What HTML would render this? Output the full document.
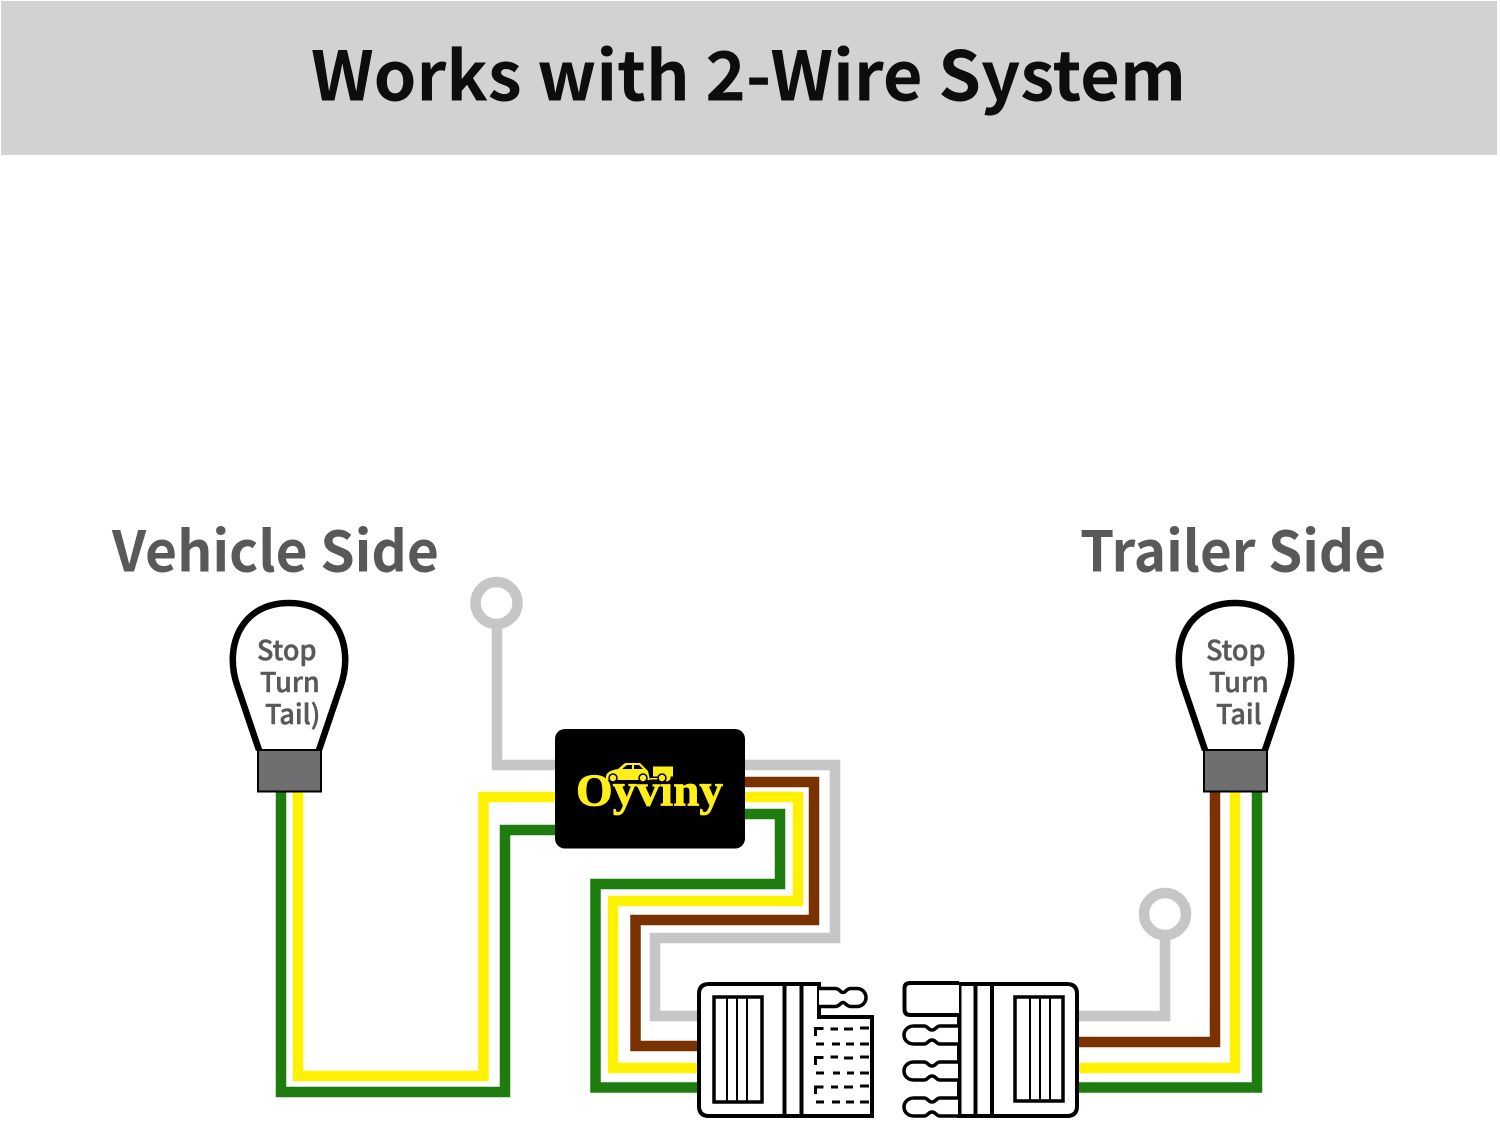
<!DOCTYPE html>
<html>
<head>
<meta charset="utf-8">
<style>
html,body{margin:0;padding:0;background:#fff;width:1500px;height:1126px;overflow:hidden}
svg{display:block}
.n{font-family:"Noto Sans CJK JP","Liberation Sans",sans-serif}
</style>
</head>
<body>
<svg width="1500" height="1126" viewBox="0 0 1500 1126" xmlns="http://www.w3.org/2000/svg">
<rect width="1500" height="1126" fill="#fff"/>
<rect x="1" y="1" width="1496" height="154" fill="#d1d2d4"/>
<text class="n" x="311" y="100.500" font-size="68" font-weight="700" fill="#0d0d0d" textLength="875" lengthAdjust="spacingAndGlyphs">Works with 2-Wire System</text>
<text class="n" x="112" y="571.500" font-size="56" font-weight="700" fill="#58595b" textLength="327" lengthAdjust="spacingAndGlyphs">Vehicle Side</text>
<text class="n" x="1080" y="571.500" font-size="56" font-weight="700" fill="#58595b" textLength="306" lengthAdjust="spacingAndGlyphs">Trailer Side</text>

<!-- wires -->
<g fill="none" stroke-width="10.5" stroke-linejoin="miter">
  <path d="M281,792 V1092 H505 V830 H556" stroke="#1f7d0f"/>
  <path d="M298,792 V1076 H483.500 V797 H556" stroke="#fff200"/>
  <path d="M497,620 V765 H556" stroke="#c6c6c6"/>
  <circle cx="496.500" cy="603" r="21" stroke="#c6c6c6"/>

  <path d="M744,765 H835 V938 H655 V1016 H698" stroke="#c6c6c6"/>
  <path d="M744,782 H814 V920 H635.500 V1046 H698" stroke="#7a3300"/>
  <path d="M744,797 H798 V901 H613 V1068 H698" stroke="#fff200"/>
  <path d="M744,814 H780 V884 H595.500 V1087.500 H698" stroke="#1f7d0f"/>

  <path d="M1078,1016 H1165 V935" stroke="#c6c6c6"/>
  <circle cx="1165" cy="914" r="21" stroke="#c6c6c6"/>
  <path d="M1078,1042 H1215 V792" stroke="#7a3300"/>
  <path d="M1078,1068 H1235 V792" stroke="#fff200"/>
  <path d="M1078,1087.500 H1257 V792" stroke="#1f7d0f"/>
</g>

<!-- left bulb -->
<path d="M259,750 L237,685 C224,646 241,603 289,603 C337,603 354,646 341,685 L319,750" fill="#fff" stroke="#000" stroke-width="6.500"/>
<rect x="258" y="750" width="63" height="41.500" fill="#6f6f71" stroke="#000" stroke-width="2"/>
<g class="n" font-size="27" font-weight="500" fill="#58595b" stroke="#58595b" stroke-width="0.500">
  <text x="257" y="660">Stop</text>
  <text x="260" y="692">Turn</text>
  <text x="265" y="724">Tail)</text>
</g>

<!-- right bulb -->
<path d="M1205,750 L1183,685 C1170,646 1187,603 1235,603 C1283,603 1300,646 1287,685 L1265,750" fill="#fff" stroke="#000" stroke-width="6.500"/>
<rect x="1204" y="750" width="63" height="41.500" fill="#6f6f71" stroke="#000" stroke-width="2"/>
<g class="n" font-size="27" font-weight="500" fill="#58595b" stroke="#58595b" stroke-width="0.500">
  <text x="1206" y="660">Stop</text>
  <text x="1209" y="692">Turn</text>
  <text x="1216" y="724">Tail</text>
</g>

<!-- black box -->
<rect x="555" y="729" width="190" height="119.500" rx="10" ry="10" fill="#000"/>
<g fill="#ffee1a">
  <path d="M606,777 C606,772 612,770 618,769 L625,763 H640 L648,771 L650,780 H606 Z"/>
  <rect x="653" y="766.500" width="20" height="10"/>
  <rect x="650" y="778" width="16" height="1.500"/>
</g>
<g fill="#000">
  <path d="M622,769 L627,765 H632 V769 Z"/>
  <path d="M634,765 H639 L643,769 H634 Z"/>
</g>
<text x="576" y="805.500" font-family="'Liberation Serif',serif" font-size="45" font-weight="700" fill="#ffee1a" stroke="#ffee1a" stroke-width="0.800" textLength="147" lengthAdjust="spacingAndGlyphs">Oyviny</text>
<g fill="#ffee1a" stroke="#000" stroke-width="1.500">
  <circle cx="613" cy="778" r="4"/>
  <circle cx="643" cy="778" r="4"/>
  <circle cx="662" cy="778" r="4"/>
</g>

<!-- left connector -->
<g fill="none" stroke="#000">
  <path d="M819,984 H709 Q699,984 699,994 V1106 Q699,1116 709,1116 H872 V1017 H819 Z" fill="#fff" stroke-width="4"/>
  <path d="M784.500,984 V1116 M801.500,984 V1116" stroke-width="4"/>
  <rect x="714" y="997" width="48" height="105" fill="#fff" stroke-width="3.500"/>
  <path d="M727,997 V1102 M737,997 V1102 M747,997 V1102" stroke-width="2"/>
  <path d="M819,988.500 H835 C840,988.500 840,992.500 843,992.500 C846,992.500 846,988.500 851,988.500 H857 C862,988.500 866,992.500 866,997.500 C866,1002.500 862,1006.500 857,1006.500 H851 C846,1006.500 846,1002.500 843,1002.500 C840,1002.500 840,1006.500 835,1006.500 H819" fill="#fff" stroke-width="3.500"/>
  <g stroke-width="3">
    <path d="M815.500,1036 V1028.500 H823.500"/>
    <path d="M830.500,1029 H838 M844,1029 H853 M860,1028 H869"/>
    <path d="M816,1044 H824 M832,1044 H840 M846,1044 H854 M860,1044 H869"/>
    <path d="M815.500,1065 V1057.500 H823.500"/>
    <path d="M830.500,1057 H838 M844,1058 H853 M860,1057 H869"/>
    <path d="M816,1073 H824 M833,1073 H840 M847,1073 H854 M860,1073 H869"/>
    <path d="M815.500,1094 V1087 H823.500"/>
    <path d="M831,1087 H838 M844,1087 H853 M860,1086 H869"/>
    <path d="M816,1102 H824 M832,1102 H840 M846,1102 H854 M860,1102 H869"/>
  </g>
</g>

<!-- right connector -->
<g fill="none" stroke="#000">
  <path d="M959,984 H1067 Q1077,984 1077,994 V1106 Q1077,1116 1067,1116 H959 Z" fill="#fff" stroke-width="4"/>
  <path d="M959.500,984 V1116 M975.500,984 V1116 M992,984 V1116" stroke-width="4"/>
  <path d="M959,983 H910 Q904.500,983 904.500,988.500 V1009 Q904.500,1015 910,1015 H959" fill="#fff" stroke-width="4"/>
  <rect x="1015" y="997" width="48" height="104" fill="#fff" stroke-width="3.500"/>
  <path d="M1030,997 V1101 M1040,997 V1101 M1050,997 V1101" stroke-width="2"/>
  <path d="M958,1026 H940 C936,1026 936,1030 932,1030 C928,1030 928,1026 924,1026 H914 C908,1026 904,1030 904,1035 C904,1040 908,1044 914,1044 H924 C928,1044 928,1040 932,1040 C936,1040 936,1044 940,1044 H958" fill="#fff" stroke-width="3.500"/>
  <path d="M958,1062 H940 C936,1062 936,1066 932,1066 C928,1066 928,1062 924,1062 H914 C908,1062 904,1066 904,1071 C904,1076 908,1080 914,1080 H924 C928,1080 928,1076 932,1076 C936,1076 936,1080 940,1080 H958" fill="#fff" stroke-width="3.500"/>
  <path d="M958,1098 H940 C936,1098 936,1102 932,1102 C928,1102 928,1098 924,1098 H914 C908,1098 904,1102 904,1107 C904,1112 908,1116 914,1116 H924 C928,1116 928,1112 932,1112 C936,1112 936,1116 940,1116 H958" fill="#fff" stroke-width="3.500"/>
</g>
</svg>
</body>
</html>
